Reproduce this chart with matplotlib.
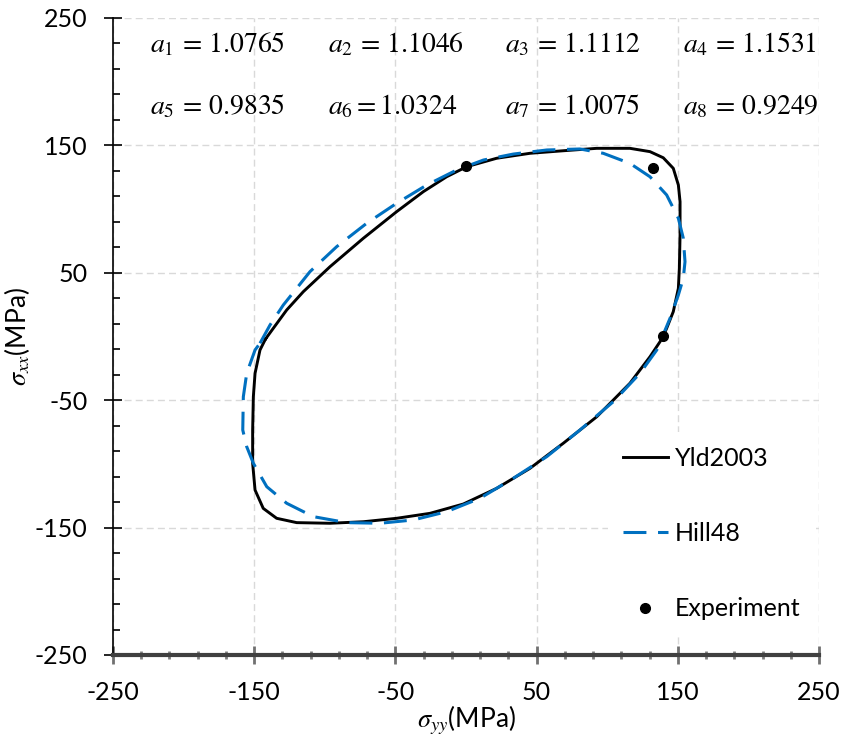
import numpy as np
import matplotlib.pyplot as plt

plt.rcParams['font.family'] = ['Lato', 'DejaVu Sans']
plt.rcParams['mathtext.fontset'] = 'stix'
plt.rcParams['axes.unicode_minus'] = False

# Yld2003 yield locus (sigma_yy, sigma_xx)
yld_x = [-142.0, -136.5, -127.0, -115.2, -96.3, -72.7, -49.1, -30.2, -13.7, 0.5, 21.7,
         45.3, 68.9, 92.6, 116.1, 130.3, 139.7, 146.8, 150.4, 151.6, 151.6, 151.1, 150.4,
         146.8, 142.1, 139.7, 137.4, 130.3, 116.1, 92.6, 68.9, 45.3, 21.7, -1.9, -25.5,
         -49.1, -72.7, -96.3, -119.9, -134.1, -143.6, -149.4, -151.1, -151.1, -150.6,
         -149.4, -145.9, -142.0]
yld_y = [-2.0, 6.4, 20.8, 35.2, 54.8, 77.1, 98.0, 113.7, 125.4, 133.3, 139.9,
         143.8, 145.8, 147.7, 147.7, 145.1, 140.3, 132.0, 118.9, 105.8, 79.7, 53.5, 37.8,
         19.5, 6.4, 0.4, -4.1, -15.9, -36.7, -63.0, -83.8, -103.5, -119.2, -131.5, -138.8,
         -142.7, -145.4, -146.6, -146.1, -142.7, -134.9, -120.5, -99.5, -73.4, -47.3,
         -28.9, -10.6, -2.0]

# Hill48 yield locus
hill_x = [-145.9, -138.8, -129.4, -110.5, -91.6, -70.3, -49.1, -27.8, -6.6, 12.3, 33.5,
          57.2, 80.7, 97.2, 116.1, 130.3, 142.1, 150.4, 153.9, 155.1, 153.9, 150.4, 144.5,
          138.6, 135.1, 123.2, 104.3, 80.7, 57.2, 33.5, 9.9, -13.7, -37.3, -60.9, -84.5,
          -108.1, -127.0, -141.1, -150.6, -155.3, -158.1, -157.7, -155.3, -149.4, -145.9]
hill_y = [-5.3, 9.0, 24.7, 50.9, 70.5, 88.9, 104.6, 118.9, 130.7, 138.5, 143.2,
          146.4, 147.2, 143.8, 135.9, 125.4, 111.1, 92.8, 77.1, 58.7, 45.7, 32.6, 14.3,
          -1.4, -10.6, -28.9, -51.2, -73.4, -94.3, -111.3, -127.0, -137.5, -144.0, -146.6, -146.1,
          -141.4, -130.9, -117.9, -99.5, -86.5, -73.4, -47.3, -28.9, -10.6, -5.3]

# experimental points
exp_x = [0.0, 132.2, 139.7]
exp_y = [134.1, 132.5, 0.2]

coef_names = ['a_1', 'a_2', 'a_3', 'a_4', 'a_5', 'a_6', 'a_7', 'a_8']
coef_values = ['1.0765', '1.1046', '1.1112', '1.1531', '0.9835', '1.0324', '1.0075', '0.9249']

fig = plt.figure(figsize=(8.43, 7.45), dpi=100)
ax = fig.add_axes([113/843, 1-655/745, 706/843, 637/745])

ax.plot(yld_x, yld_y, color='black', lw=2.1, label='Yld2003', zorder=3)
ax.plot(hill_x, hill_y, color='#0070C0', lw=2.2, dashes=(7.5, 3.8), label='Hill48', zorder=4)
ax.plot(exp_x, exp_y, 'o', color='black', ms=7, label='Experiment', zorder=5)

ax.set_xlim(-250, 250)
ax.set_ylim(-250, 250)
ax.set_xticks(np.arange(-250, 251, 100))
ax.set_yticks(np.arange(-250, 251, 100))
ax.set_xticks(np.arange(-250, 251, 20), minor=True)
ax.set_yticks(np.arange(-250, 251, 20), minor=True)
ax.grid(True, which='major', color='#D9D9D9', lw=1.0, linestyle=(0, (5, 3)), zorder=0)
ax.set_axisbelow(True)

for s in ['top', 'right']:
    ax.spines[s].set_visible(False)
ax.spines['left'].set_linewidth(1.2)
ax.spines['bottom'].set_linewidth(3)
ax.spines['bottom'].set_color('#404040')

ax.tick_params(axis='y', which='major', direction='inout', length=13, width=1.2, labelsize=18, pad=12)
ax.tick_params(axis='y', which='minor', direction='in', length=5, width=1.2)
ax.tick_params(axis='x', which='major', direction='inout', length=13, width=2, color='#707070', labelsize=18, pad=12)
ax.tick_params(axis='x', which='minor', direction='inout', length=6, width=2, color='#808080')

ax.set_xlabel(r'$\sigma_{yy}$(MPa)', fontsize=19, labelpad=0)
ax.set_ylabel(r'$\sigma_{xx}$(MPa)', fontsize=19, labelpad=2)

for i, (n, v) in enumerate(zip(coef_names, coef_values)):
    col = i % 4
    row = i // 4
    if n == 'a_6':
        s = r'$%s{=}%s$' % (n, v)
    else:
        s = r'$%s\,=\,%s$' % (n, v)
    ax.text(0.0525 + col * 0.2515, 0.959 - row * 0.0975, s, transform=ax.transAxes,
            ha='left', va='center', fontsize=20)

leg = ax.legend(loc='upper left', bbox_to_anchor=(0.683, 0.370), fontsize=18, frameon=True,
                framealpha=1, edgecolor='none', facecolor='white', handlelength=1.8,
                handletextpad=0.3, labelspacing=2.09, borderpad=0.6, fancybox=False)

fig.savefig('out.png', dpi=100)
